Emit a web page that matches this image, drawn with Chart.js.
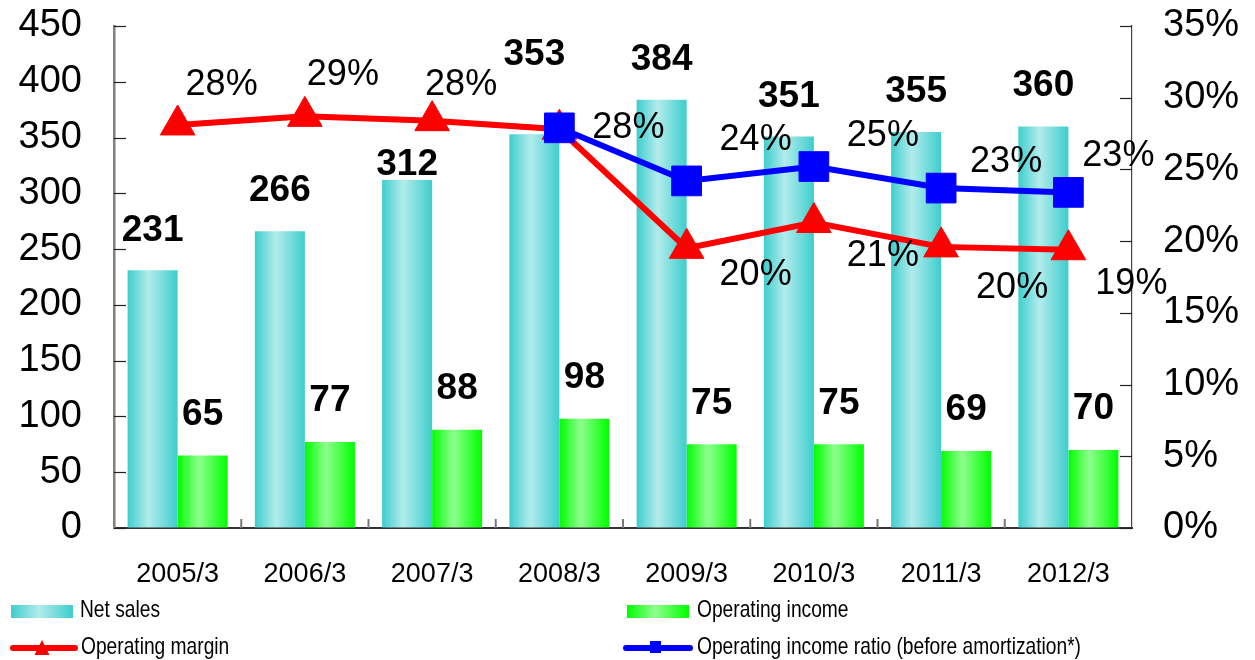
<!DOCTYPE html>
<html>
<head>
<meta charset="utf-8">
<script src="https://cdn.jsdelivr.net/npm/chart.js@4.4.1/dist/chart.umd.min.js"></script>
<style>
  html, body { margin: 0; padding: 0; background: #fff; }
  #contenedor { width: 1255px; height: 660px; }
</style>
</head>
<body>
<div id="contenedor"><canvas id="miCanvas"></canvas></div>
<script>
// DATOS
const categorias = ["2005/3", "2006/3", "2007/3", "2008/3", "2009/3", "2010/3", "2011/3", "2012/3"];
const ventasNetas = [231, 266, 312, 353, 384, 351, 355, 360];
const beneficioOperativo = [65, 77, 88, 98, 75, 75, 69, 70];
const margenOperativo = [28.1, 28.7, 28.4, 27.8, 19.5, 21.3, 19.6, 19.4];
const ratioAntesAmort = [null, null, null, 27.9, 24.2, 25.2, 23.7, 23.4];
const textoMargen = ["28%", "29%", "28%", null, "20%", "21%", "20%", "19%"];
const textoRatio = [null, null, null, "28%", "24%", "25%", "23%", "23%"];
const marcasIzquierda = [0, 50, 100, 150, 200, 250, 300, 350, 400, 450];
const marcasDerecha = [0, 5, 10, 15, 20, 25, 30, 35];

// desplazamientos de las etiquetas (solo estilo, en píxeles)
const despVentas = [-43, -44, -18, -82, -43, -43, -43, -44];
const despBeneficio = -44;
const despMargen = [[44, -43], [38, -44], [29, -39], null, [69, 24], [69, 31], [71, 38], [63, 31]];
const despRatio = [null, null, null, [69, -3], [69, -44], [69, -33], [65, -29], [50, -39]];

const FUENTE = '"Liberation Sans", Arial, sans-serif';
Chart.defaults.font.family = FUENTE;
Chart.defaults.color = '#000';

// escribe un texto centrado en (x, y) tomando como centro la altura de las cifras
function textoCentrado(ctx, texto, x, y, tam) {
  ctx.fillText(texto, x, y + tam * 0.358);
}

// degradado horizontal dentro de cada barra
const degradadoBarras = {
  id: 'degradadoBarras',
  beforeDatasetsDraw(chart) {
    const ctx = chart.ctx;
    chart.data.datasets.forEach((ds, i) => {
      if (!ds.degradado) return;
      chart.getDatasetMeta(i).data.forEach((barra) => {
        const g = ctx.createLinearGradient(barra.x - barra.width / 2, 0, barra.x + barra.width / 2, 0);
        g.addColorStop(0, ds.degradado[0]);
        g.addColorStop(0.42, ds.degradado[1]);
        g.addColorStop(1, ds.degradado[0]);
        barra.options.backgroundColor = g;
      });
    });
  }
};

// marcas de los ejes dibujadas hacia dentro
const marcasInternas = {
  id: 'marcasInternas',
  beforeDatasetsDraw(chart) {
    const { ctx, chartArea: a, scales } = chart;
    ctx.save();
    ctx.lineWidth = 1.2;
    ctx.strokeStyle = '#222';
    scales.y.ticks.forEach((t) => {
      const y = Math.round(scales.y.getPixelForValue(t.value)) + 0.5;
      ctx.beginPath(); ctx.moveTo(a.left, y); ctx.lineTo(a.left + 12, y); ctx.stroke();
    });
    scales.y1.ticks.forEach((t) => {
      const y = Math.round(scales.y1.getPixelForValue(t.value)) + 0.5;
      ctx.beginPath(); ctx.moveTo(a.right - 12, y); ctx.lineTo(a.right, y); ctx.stroke();
    });
    ctx.strokeStyle = '#777';
    ctx.lineWidth = 2;
    const paso = (a.right - a.left) / categorias.length;
    for (let i = 1; i < categorias.length; i++) {
      const x = a.left + paso * i;
      ctx.beginPath(); ctx.moveTo(x, a.bottom); ctx.lineTo(x, a.bottom - 9); ctx.stroke();
    }
    ctx.restore();
  }
};

// etiquetas de valores sobre barras y puntos
const etiquetasValores = {
  id: 'etiquetasValores',
  afterDatasetsDraw(chart) {
    const ctx = chart.ctx;
    ctx.save();
    ctx.fillStyle = '#000';
    ctx.textAlign = 'center';
    ctx.textBaseline = 'alphabetic';

    ctx.font = 'bold 37px ' + FUENTE;
    chart.getDatasetMeta(2).data.forEach((b, i) => {
      textoCentrado(ctx, String(ventasNetas[i]), b.x, b.y + despVentas[i], 37);
    });
    chart.getDatasetMeta(3).data.forEach((b, i) => {
      textoCentrado(ctx, String(beneficioOperativo[i]), b.x, b.y + despBeneficio, 37);
    });

    ctx.font = '36px ' + FUENTE;
    chart.getDatasetMeta(1).data.forEach((p, i) => {
      if (!textoMargen[i] || !despMargen[i]) return;
      textoCentrado(ctx, textoMargen[i], p.x + despMargen[i][0], p.y + despMargen[i][1], 36);
    });
    chart.getDatasetMeta(0).data.forEach((p, i) => {
      if (!textoRatio[i] || !despRatio[i]) return;
      textoCentrado(ctx, textoRatio[i], p.x + despRatio[i][0], p.y + despRatio[i][1], 36);
    });
    ctx.restore();
  }
};

// leyenda en dos columnas como en el original
const leyendaPropia = {
  id: 'leyendaPropia',
  afterDraw(chart) {
    const ctx = chart.ctx;
    ctx.save();
    ctx.font = '24px ' + FUENTE;
    const estrecho = 80 / ctx.measureText('Net sales').width;
    ctx.fillStyle = '#000';
    ctx.textBaseline = 'alphabetic';
    ctx.textAlign = 'left';

    const escribir = (t, x, y) => {
      ctx.save();
      ctx.translate(x, y);
      ctx.scale(estrecho, 1);
      ctx.fillStyle = '#000';
      ctx.fillText(t, 0, 0);
      ctx.restore();
    };
    const muestra = (x, y, w, h, c1, c2) => {
      const g = ctx.createLinearGradient(x, 0, x + w, 0);
      g.addColorStop(0, c1); g.addColorStop(0.45, c2); g.addColorStop(1, c1);
      ctx.fillStyle = g;
      ctx.fillRect(x, y, w, h);
    };
    const linea = (x1, x2, y, color) => {
      ctx.strokeStyle = color;
      ctx.lineWidth = 6;
      ctx.lineCap = 'round';
      ctx.beginPath(); ctx.moveTo(x1, y); ctx.lineTo(x2, y); ctx.stroke();
    };

    const ds = chart.data.datasets;
    muestra(11, 605, 62, 13, ds[2].degradado[0], ds[2].degradado[1]);
    escribir(ds[2].label, 80, 617);
    muestra(627, 605, 62, 13, ds[3].degradado[0], ds[3].degradado[1]);
    escribir(ds[3].label, 697, 617);

    linea(13, 75, 648, '#FF0000');
    ctx.fillStyle = '#FF0000';
    ctx.beginPath(); ctx.moveTo(42, 640); ctx.lineTo(49.5, 655); ctx.lineTo(34.5, 655); ctx.closePath(); ctx.fill();
    escribir(ds[1].label, 81, 654);

    linea(626, 690, 648, '#0000FF');
    ctx.fillStyle = '#0000FF';
    ctx.fillRect(650, 641, 11, 12);
    escribir(ds[0].label, 697, 654);
    ctx.restore();
  }
};

// quita el margen extra que Chart.js reserva para las etiquetas extremas
function ajustarEje(ancho) {
  return (s) => { s.width = ancho; s.paddingTop = 0; s.paddingBottom = 0; };
}

const ctx = document.getElementById('miCanvas').getContext('2d');

new Chart(ctx, {
  type: 'bar',
  data: {
    labels: categorias,
    datasets: [
      {
        type: 'line',
        label: 'Operating income ratio (before amortization*)',
        data: ratioAntesAmort,
        yAxisID: 'y1',
        borderColor: '#0000FF',
        backgroundColor: '#0000FF',
        borderWidth: 6,
        pointStyle: 'rect',
        pointRadius: 21,
        pointBorderWidth: 1,
        pointBackgroundColor: '#0000FF',
        pointBorderColor: '#0000FF',
        tension: 0,
        order: 0
      },
      {
        type: 'line',
        label: 'Operating margin',
        data: margenOperativo,
        yAxisID: 'y1',
        borderColor: '#FF0000',
        backgroundColor: '#FF0000',
        borderWidth: 6,
        pointStyle: 'triangle',
        pointRadius: 20,
        pointBorderWidth: 1,
        pointBackgroundColor: '#FF0000',
        pointBorderColor: '#FF0000',
        tension: 0,
        order: 1
      },
      {
        label: 'Net sales',
        data: ventasNetas,
        yAxisID: 'y',
        backgroundColor: () => '#3ECDCD',
        degradado: ['#3ECDCD', '#B2ECEC'],
        borderWidth: 0,
        barPercentage: 1,
        categoryPercentage: 0.786,
        order: 2
      },
      {
        label: 'Operating income',
        data: beneficioOperativo,
        yAxisID: 'y',
        backgroundColor: () => '#00FF00',
        degradado: ['#00FF00', '#8FFF8F'],
        borderWidth: 0,
        barPercentage: 1,
        categoryPercentage: 0.786,
        order: 3
      }
    ]
  },
  options: {
    responsive: true,
    maintainAspectRatio: false,
    animation: false,
    layout: { padding: { top: 26, bottom: 72, left: 0, right: 0 } },
    plugins: {
      legend: { display: false },
      tooltip: { enabled: false }
    },
    scales: {
      x: {
        grid: { display: false, drawTicks: false },
        border: { display: true, color: '#333', width: 2 },
        ticks: { font: { size: 27 }, color: '#000', padding: 30, maxRotation: 0, autoSkip: false },
        afterFit(s) { s.height = 60; s.paddingLeft = 0; s.paddingRight = 0; }
      },
      y: {
        position: 'left',
        min: 0,
        max: 450,
        afterBuildTicks(s) { s.ticks = marcasIzquierda.map((v) => ({ value: v })); },
        ticks: { font: { size: 38 }, color: '#000', padding: 32 },
        grid: { drawOnChartArea: false, drawTicks: false },
        border: { display: true, color: '#808080', width: 2.5 },
        afterFit: ajustarEje(114)
      },
      y1: {
        position: 'right',
        min: 0,
        max: 35,
        afterBuildTicks(s) { s.ticks = marcasDerecha.map((v) => ({ value: v })); },
        ticks: { font: { size: 38 }, color: '#000', padding: 31, callback: (v) => v + '%' },
        grid: { drawOnChartArea: false, drawTicks: false },
        border: { display: true, color: '#444', width: 1.2 },
        afterFit: ajustarEje(123)
      }
    }
  },
  plugins: [degradadoBarras, marcasInternas, etiquetasValores, leyendaPropia]
});
</script>
</body>
</html>
